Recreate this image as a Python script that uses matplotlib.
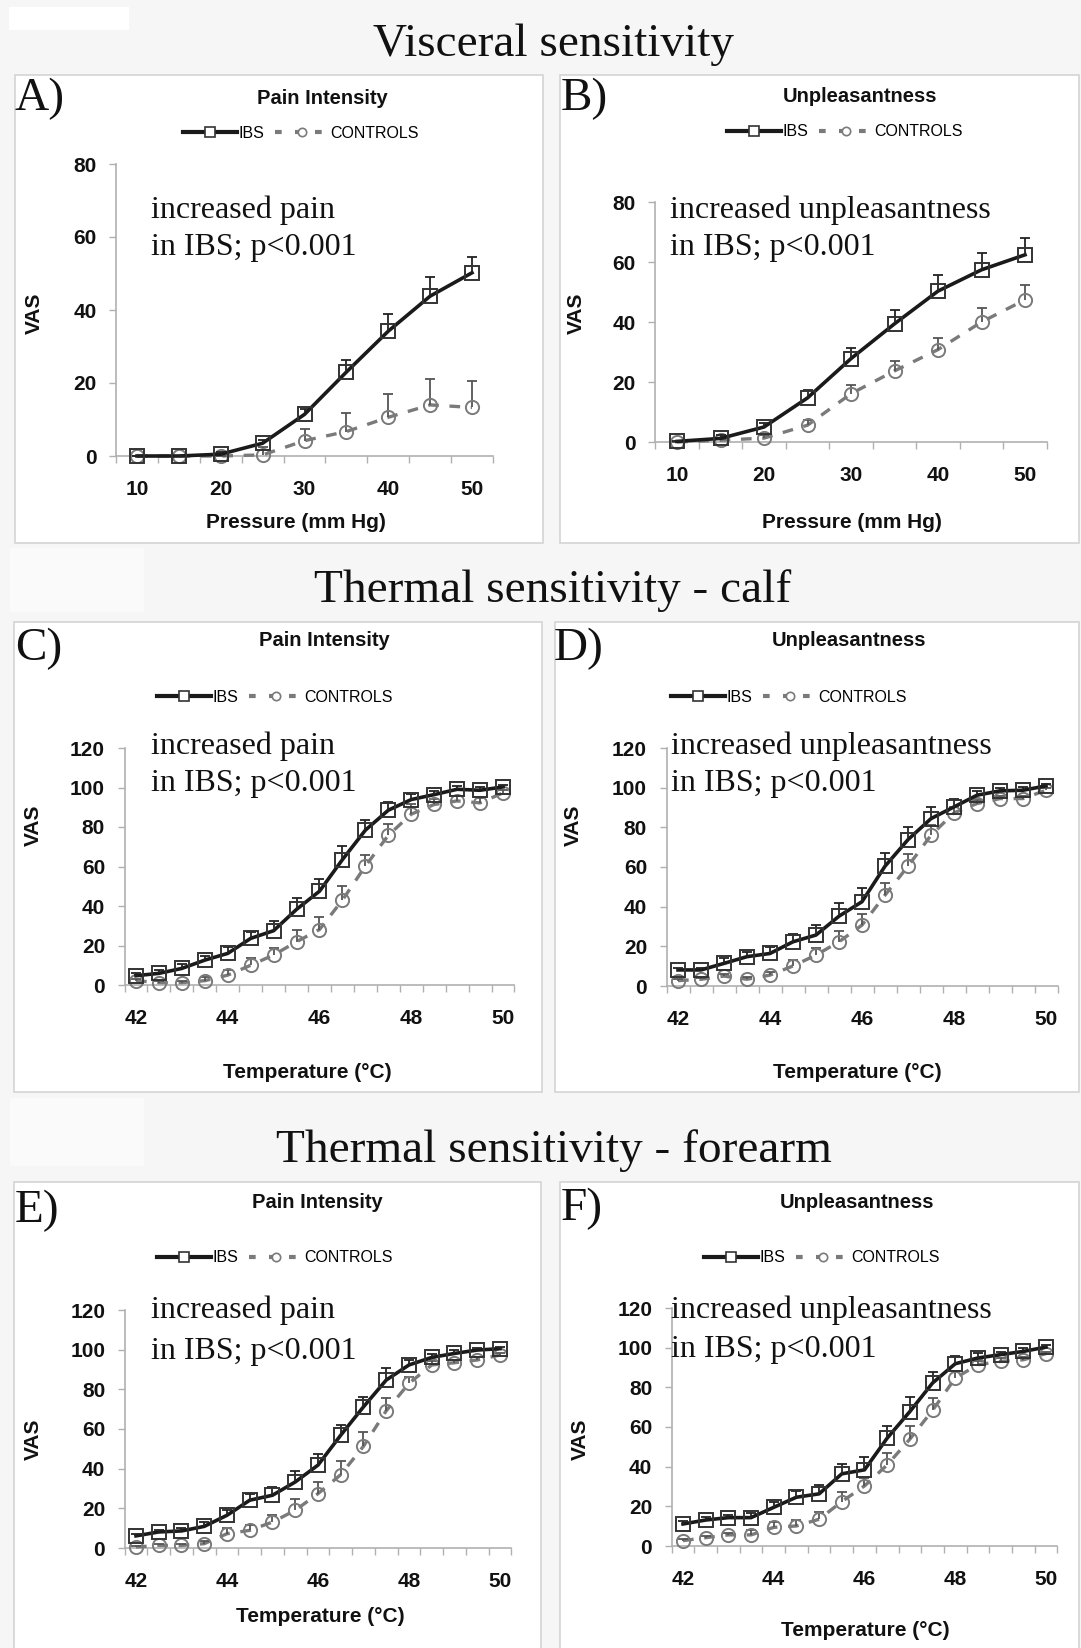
import numpy as np
import matplotlib
matplotlib.use("Agg")
import matplotlib.pyplot as plt
from matplotlib.lines import Line2D
from matplotlib.patches import Rectangle

# ---------------- data ----------------
pressure = [10, 15, 20, 25, 30, 35, 40, 45, 50]
temperature = [42, 42.5, 43, 43.5, 44, 44.5, 45, 45.5, 46, 46.5, 47, 47.5, 48, 48.5, 49, 49.5, 50]
pressure_ticks = [10, 20, 30, 40, 50]
temperature_ticks = [42, 44, 46, 48, 50]

a_ibs = [0, 0, 0.5, 3.5, 11.4, 23, 34.2, 43.8, 50.2]
a_ibs_err = [0, 0, 0.5, 1, 1.5, 3.2, 4.8, 5.2, 4.3]
a_ctl = [0, 0, 0, 0.3, 4.2, 6.7, 10.6, 14, 13.3]
a_ctl_err = [0, 0, 0, 2.2, 3.1, 5.2, 6.5, 7, 7.3]

b_ibs = [0.2, 1.2, 5, 14.7, 27.8, 39.4, 50.3, 57.4, 62.4]
b_ibs_err = [0, 1, 1.2, 2.5, 3.5, 4.5, 5.3, 5.7, 5.7]
b_ctl = [0, 0.6, 1.3, 5.6, 16.1, 23.7, 30.8, 40, 47.4]
b_ctl_err = [0, 0.3, 1, 1.6, 2.8, 3.3, 4, 4.7, 4.8]

c_ibs = [4.7, 5.9, 8.4, 12.6, 16, 23.6, 27.5, 38.3, 47.5, 63.5, 78.4, 88.5, 93.9, 96.4, 99.1, 98.6, 100.3]
c_ibs_err = [1.5, 1.5, 2, 2.1, 3.4, 3.4, 5, 6, 6.4, 6.8, 5, 4.2, 3, 2, 1.5, 1.5, 1]
c_ctl = [2.2, 1.2, 1.2, 2.2, 5, 10, 15.2, 21.9, 28.1, 43, 60.2, 75.8, 86.5, 91.4, 93.2, 92.2, 97.3]
c_ctl_err = [0.8, 0.8, 1, 2, 2.6, 3.5, 3.3, 5.9, 6.1, 7, 5.5, 5.9, 4.9, 3, 2.5, 2.5, 1.5]

d_ibs = [8.1, 8.1, 11.4, 14.8, 16.4, 22.3, 25.7, 35.2, 42.5, 60.4, 73.8, 84.4, 90.3, 96.2, 98.4, 98.7, 100.9]
d_ibs_err = [1, 1, 2.5, 2.5, 3.1, 3.9, 5, 6.4, 7, 6.9, 6.4, 5.9, 3.9, 2, 1.5, 1.5, 1]
d_ctl = [2.7, 3.4, 5, 3.4, 5.5, 10.1, 15.6, 22.3, 30.7, 45.8, 60.4, 76, 87.3, 92, 94.5, 94.5, 98.7]
d_ctl_err = [0.8, 0.8, 1, 1, 1.5, 3, 3.4, 5.4, 5.6, 5.9, 6.4, 5.1, 3, 2, 1.5, 1.5, 1]

e_ibs = [6.1, 8.1, 8.6, 10.9, 16.5, 24.1, 26.6, 33.3, 41.8, 56.9, 71.2, 84.7, 92.3, 96.1, 98.1, 99.8, 100.5]
e_ibs_err = [1, 1.2, 1.5, 2.2, 2.5, 3.3, 4.2, 5.4, 5.8, 5.1, 5.1, 5.9, 2.5, 1.5, 1.5, 1, 1]
e_ctl = [0.5, 1.3, 1.3, 2.2, 7.2, 8.9, 13.1, 19, 27.4, 37, 51.3, 69.2, 83, 92.3, 93.4, 94.8, 97.3]
e_ctl_err = [0.5, 0.5, 0.8, 1.5, 3.1, 2.5, 3.4, 5.9, 5.9, 6.9, 7.3, 6.2, 3.4, 2, 1.5, 1.5, 1]

f_ibs = [11.1, 13.1, 14.3, 14.3, 19.5, 24.6, 26.3, 36.4, 38.4, 54.4, 67.8, 82.2, 91.9, 94.8, 96.5, 98.1, 100.3]
f_ibs_err = [1.5, 1.7, 1.5, 2.2, 2.9, 3.3, 4.5, 4.8, 6.7, 6.2, 7.1, 5.5, 3.7, 2.5, 1.5, 1.5, 1]
f_ctl = [2.7, 4.2, 5.6, 5.6, 9.4, 10.1, 13.5, 22.4, 30.3, 40.9, 53.9, 68.4, 84.7, 91.4, 93.1, 93.9, 97]
f_ctl_err = [0.8, 0.8, 1, 2.5, 2.9, 3, 3.8, 5, 3.9, 6.2, 6.7, 6.2, 3.3, 2, 1.5, 1.5, 1]

section_titles = ["Visceral sensitivity", "Thermal sensitivity - calf", "Thermal sensitivity - forearm"]
series_labels = ["IBS", "CONTROLS"]

# ---------------- layout ----------------
W, H = 1081, 1648
fig = plt.figure(figsize=(W / 100, H / 100), dpi=100, facecolor="#f6f6f6")

SERIF = "Liberation Serif"
SANS = "Liberation Sans"


def fx(px):
    return px / W


def fy(py):
    return 1 - py / H


# light boxes in the gray bands
for (x0, y0, x1, y1, c) in [(9, 7, 129, 30, "white"),
                            (10, 548, 144, 612, "#fafafa"),
                            (10, 1098, 144, 1166, "#fafafa")]:
    fig.patches.append(Rectangle((fx(x0), fy(y1)), (x1 - x0) / W, (y1 - y0) / H,
                                 transform=fig.transFigure, facecolor=c, edgecolor="none", zorder=-5))

# section titles
for title, (cx, base) in zip(section_titles, [(553, 56), (553, 602), (554, 1162)]):
    fig.text(fx(cx), fy(base), title, ha="center", va="baseline",
             fontsize=34, family=SERIF, color="#111111")

panels = [
    dict(box=(15, 75, 543, 543), letter="A)", lpos=(15, 110),
         x=pressure, ibs=a_ibs, ibs_err=a_ibs_err, ctl=a_ctl, ctl_err=a_ctl_err,
         xt=pressure_ticks, xlim=(7.5, 52.5), xstep=5, xpx=(137, 472), ylim=(0, 80), ystep=20, ypx=(456, 164),
         title="Pain Intensity", tpos=(322, 99), leg=(301, 133),
         ann="increased pain\nin IBS; p<0.001", apos=(151, 210, 248),
         xlabel="Pressure (mm Hg)", xlpos=(296, 523), vas=(34, 313)),
    dict(box=(560, 75, 1079, 543), letter="B)", lpos=(561, 110),
         x=pressure, ibs=b_ibs, ibs_err=b_ibs_err, ctl=b_ctl, ctl_err=b_ctl_err,
         xt=pressure_ticks, xlim=(7.5, 52.5), xstep=5, xpx=(677, 1025), ylim=(0, 80), ystep=20, ypx=(442, 202),
         title="Unpleasantness", tpos=(860, 96), leg=(845, 132),
         ann="increased unpleasantness\nin IBS; p<0.001", apos=(670, 210, 248),
         xlabel="Pressure (mm Hg)", xlpos=(852, 523), vas=(576, 313)),
    dict(box=(14, 622, 542, 1092), letter="C)", lpos=(15, 660),
         x=temperature, ibs=c_ibs, ibs_err=c_ibs_err, ctl=c_ctl, ctl_err=c_ctl_err,
         xt=temperature_ticks, xlim=(41.75, 50.25), xstep=0.5, xpx=(136, 503), ylim=(0, 120), ystep=20, ypx=(985, 748),
         title="Pain Intensity", tpos=(324, 641), leg=(275, 697),
         ann="increased pain\nin IBS; p<0.001", apos=(151, 746, 783),
         xlabel="Temperature (\u00b0C)", xlpos=(307, 1072), vas=(33, 825)),
    dict(box=(555, 622, 1079, 1092), letter="D)", lpos=(554, 660),
         x=temperature, ibs=d_ibs, ibs_err=d_ibs_err, ctl=d_ctl, ctl_err=d_ctl_err,
         xt=temperature_ticks, xlim=(41.75, 50.25), xstep=0.5, xpx=(678, 1046), ylim=(0, 120), ystep=20, ypx=(986, 748),
         title="Unpleasantness", tpos=(849, 641), leg=(789, 697),
         ann="increased unpleasantness\nin IBS; p<0.001", apos=(671, 746, 783),
         xlabel="Temperature (\u00b0C)", xlpos=(857, 1072), vas=(573, 825)),
    dict(box=(14, 1182, 541, 1660), letter="E)", lpos=(15, 1222),
         x=temperature, ibs=e_ibs, ibs_err=e_ibs_err, ctl=e_ctl, ctl_err=e_ctl_err,
         xt=temperature_ticks, xlim=(41.75, 50.25), xstep=0.5, xpx=(136, 500), ylim=(0, 120), ystep=20, ypx=(1548, 1310),
         title="Pain Intensity", tpos=(317, 1203), leg=(275, 1258),
         ann="increased pain\nin IBS; p<0.001", apos=(151, 1310, 1351),
         xlabel="Temperature (\u00b0C)", xlpos=(320, 1617), vas=(33, 1439)),
    dict(box=(560, 1182, 1079, 1660), letter="F)", lpos=(561, 1220),
         x=temperature, ibs=f_ibs, ibs_err=f_ibs_err, ctl=f_ctl, ctl_err=f_ctl_err,
         xt=temperature_ticks, xlim=(41.75, 50.25), xstep=0.5, xpx=(683, 1046), ylim=(0, 120), ystep=20, ypx=(1546, 1308),
         title="Unpleasantness", tpos=(857, 1203), leg=(822, 1258),
         ann="increased unpleasantness\nin IBS; p<0.001", apos=(671, 1310, 1350),
         xlabel="Temperature (\u00b0C)", xlpos=(865, 1630), vas=(580, 1439)),
]

IBS_C = "#1a1a1a"
CTL_C = "#7a7a7a"
AX_C = "#b0b0b0"

for p in panels:
    x0, y0, x1, y1 = p["box"]
    fig.patches.append(Rectangle((fx(x0), fy(y1)), (x1 - x0) / W, (y1 - y0) / H,
                                 transform=fig.transFigure, facecolor="white",
                                 edgecolor="#d4d4d4", lw=1.2, zorder=-5))
    # axes placement from pixel mapping
    xa, xb = p["xt"][0], p["xt"][-1]
    ppu = (p["xpx"][1] - p["xpx"][0]) / (xb - xa)
    left = p["xpx"][0] - (xa - p["xlim"][0]) * ppu
    right = p["xpx"][1] + (p["xlim"][1] - xb) * ppu
    ybot, ytop = p["ypx"]
    ax = fig.add_axes([fx(left), fy(ybot), (right - left) / W, (ybot - ytop) / H])
    ax.set_facecolor("none")
    ax.set_xlim(*p["xlim"])
    ax.set_ylim(*p["ylim"])
    for s in ["top", "right"]:
        ax.spines[s].set_visible(False)
    for s in ["left", "bottom"]:
        ax.spines[s].set_color(AX_C)
        ax.spines[s].set_linewidth(1.2)

    x = np.array(p["x"], dtype=float)
    # controls
    ctl = np.array(p["ctl"])
    ctl_err = np.array(p["ctl_err"])
    ax.plot(x, ctl, color=CTL_C, lw=2.4, dashes=(3.2, 3.2), zorder=3, clip_on=False)
    eb = ax.errorbar(x, ctl, yerr=[np.zeros_like(ctl_err), ctl_err], fmt="none",
                     ecolor="#555555", elinewidth=1.3, capsize=3.8, capthick=1.3, zorder=3)
    eb[1][0].set_visible(False)
    ax.plot(x, ctl, ls="none", marker="o", ms=9.5, mfc="none", mec=CTL_C, mew=1.4,
            zorder=4, clip_on=False)
    # IBS
    ibs = np.array(p["ibs"])
    ibs_err = np.array(p["ibs_err"])
    ax.plot(x, ibs, color=IBS_C, lw=2.6, zorder=5, clip_on=False, solid_joinstyle="round")
    eb = ax.errorbar(x, ibs, yerr=[np.zeros_like(ibs_err), ibs_err], fmt="none",
                     ecolor="#222222", elinewidth=1.3, capsize=3.8, capthick=1.3, zorder=5)
    eb[1][0].set_visible(False)
    ax.plot(x, ibs, ls="none", marker="s", ms=10, mfc="none", mec="#333333", mew=1.4,
            zorder=6, clip_on=False)

    # ticks
    ax.set_xticks(p["xt"])
    ax.set_xticklabels([str(t) for t in p["xt"]])
    ax.set_xticks(np.arange(p["xlim"][0], p["xlim"][1] + 1e-6, p["xstep"]), minor=True)
    ax.tick_params(axis="x", which="major", length=0, pad=17)
    ax.tick_params(axis="x", which="minor", length=5, width=1, color=AX_C, direction="out")
    yt = np.arange(p["ylim"][0], p["ylim"][1] + 1e-6, p["ystep"])
    ax.set_yticks(yt)
    ax.set_yticklabels([f"{int(v)}" for v in yt])
    ax.tick_params(axis="y", which="major", length=5, width=1, color=AX_C, pad=9)
    for lab in ax.get_xticklabels() + ax.get_yticklabels():
        lab.set_fontfamily(SANS)
        lab.set_fontweight("bold")
        lab.set_fontsize(15)
        lab.set_color("#111111")

    # texts
    fig.text(fx(p["lpos"][0]), fy(p["lpos"][1]), p["letter"], ha="left", va="baseline",
             fontsize=34, family=SERIF, color="#111111")
    fig.text(fx(p["tpos"][0]), fy(p["tpos"][1]), p["title"], ha="center", va="center",
             fontsize=14.5, family=SANS, fontweight="bold", color="#111111")
    l1, l2 = p["ann"].split("\n")
    fig.text(fx(p["apos"][0]), fy(p["apos"][1]), l1, ha="left", va="center",
             fontsize=23, family=SERIF, color="#111111")
    fig.text(fx(p["apos"][0]), fy(p["apos"][2]), l2, ha="left", va="center",
             fontsize=23, family=SERIF, color="#111111")
    fig.text(fx(p["xlpos"][0]), fy(p["xlpos"][1]), p["xlabel"], ha="center", va="center",
             fontsize=15, family=SANS, fontweight="bold", color="#111111")
    fig.text(fx(p["vas"][0]), fy(p["vas"][1]), "VAS", ha="center", va="center", rotation=90,
             fontsize=15, family=SANS, fontweight="bold", color="#111111")

    # legend
    handles = [
        Line2D([], [], color=IBS_C, lw=3, marker="s", ms=7, mfc="white", mec="#333333", mew=1.2),
        Line2D([], [], color=CTL_C, lw=3, dashes=(1.6, 3.2), marker="o", ms=6, mfc="white",
               mec=CTL_C, mew=1.2),
    ]
    ax.legend(handles, series_labels, loc="center",
              bbox_to_anchor=(fx(p["leg"][0]), fy(p["leg"][1])), bbox_transform=fig.transFigure,
              ncol=2, frameon=False, handlelength=3.4, handletextpad=0.05, columnspacing=0.7,
              borderpad=0, prop={"family": SANS, "size": 11.5})

fig.savefig("out.png", dpi=100, facecolor=fig.get_facecolor())
